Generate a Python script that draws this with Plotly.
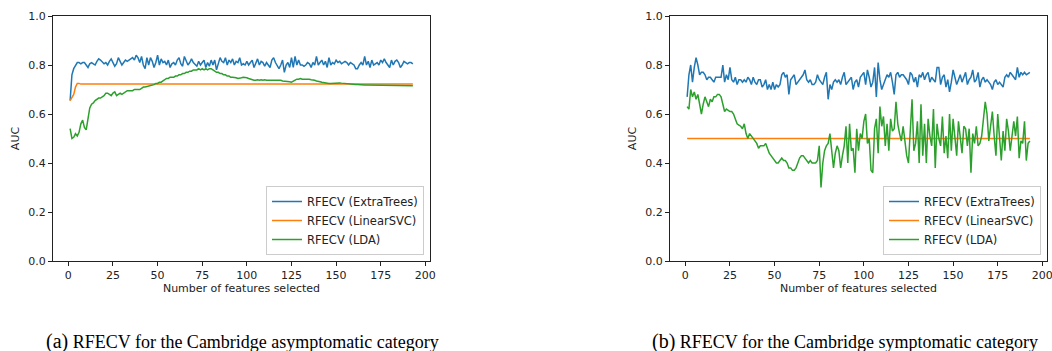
import plotly.graph_objects as go

# ---------------- data ----------------
features = list(range(1, 194))

left_extratrees = [
    0.655, 0.76, 0.785, 0.80, 0.81, 0.81, 0.805, 0.81, 0.81, 0.80,
    0.79, 0.805, 0.81, 0.805, 0.80, 0.815, 0.825, 0.82, 0.81, 0.805,
    0.81, 0.80, 0.815, 0.825, 0.81, 0.795, 0.805, 0.83, 0.815, 0.80,
    0.81, 0.82, 0.815, 0.82, 0.825, 0.83, 0.82, 0.84, 0.83, 0.81,
    0.835, 0.80, 0.785, 0.83, 0.80, 0.83, 0.815, 0.79, 0.81, 0.84,
    0.80, 0.825, 0.81, 0.815, 0.80, 0.82, 0.79, 0.805, 0.81, 0.80,
    0.82, 0.83, 0.805, 0.795, 0.835, 0.82, 0.80, 0.81, 0.825, 0.81,
    0.80, 0.795, 0.815, 0.80, 0.81, 0.82, 0.79, 0.81, 0.795, 0.82,
    0.80, 0.82, 0.78, 0.81, 0.83, 0.815, 0.81, 0.83, 0.80, 0.82,
    0.81, 0.825, 0.80, 0.815, 0.81, 0.83, 0.80, 0.805, 0.80, 0.815,
    0.80, 0.81, 0.82, 0.79, 0.81, 0.825, 0.80, 0.815, 0.81, 0.795,
    0.81, 0.80, 0.79, 0.82, 0.83, 0.81, 0.80, 0.785, 0.80, 0.82,
    0.77, 0.80, 0.81, 0.79, 0.83, 0.79, 0.835, 0.80, 0.82, 0.80,
    0.80, 0.795, 0.80, 0.81, 0.805, 0.79, 0.81, 0.80, 0.835, 0.80,
    0.81, 0.82, 0.80, 0.815, 0.79, 0.83, 0.80, 0.81, 0.805, 0.82,
    0.81, 0.815, 0.805, 0.81, 0.815, 0.81, 0.80, 0.81, 0.805, 0.80,
    0.785, 0.785, 0.80, 0.81, 0.80, 0.835, 0.80, 0.815, 0.79, 0.82,
    0.80, 0.805, 0.81, 0.80, 0.82, 0.81, 0.825, 0.81, 0.80, 0.79,
    0.82, 0.80, 0.815, 0.82, 0.81, 0.79, 0.80, 0.815, 0.81, 0.805,
    0.81, 0.81, 0.805,
]

left_linearsvc_x = [1, 2, 3, 4, 5, 6, 7, 193]
left_linearsvc = [0.655, 0.67, 0.68, 0.71, 0.725, 0.725, 0.722, 0.722]

left_lda = [
    0.54, 0.50, 0.505, 0.52, 0.51, 0.525, 0.56, 0.575, 0.545, 0.535,
    0.58, 0.625, 0.64, 0.645, 0.655, 0.66, 0.665, 0.665, 0.67, 0.675,
    0.685, 0.685, 0.68, 0.675, 0.685, 0.69, 0.675, 0.68, 0.685, 0.68,
    0.685, 0.69, 0.695, 0.695, 0.695, 0.695, 0.70, 0.70, 0.70, 0.70,
    0.705, 0.71, 0.71, 0.712, 0.715, 0.715, 0.72, 0.72, 0.725, 0.725,
    0.73, 0.73, 0.735, 0.74, 0.745, 0.745, 0.75, 0.75, 0.75, 0.755,
    0.755, 0.76, 0.76, 0.765, 0.765, 0.77, 0.77, 0.775, 0.775, 0.78,
    0.78, 0.78, 0.785, 0.78, 0.785, 0.78, 0.785, 0.78, 0.785, 0.785,
    0.78, 0.775, 0.77, 0.77, 0.765, 0.765, 0.76, 0.76, 0.755, 0.755,
    0.75, 0.75, 0.75, 0.748, 0.745, 0.745, 0.748, 0.75, 0.75, 0.748,
    0.745, 0.742, 0.74, 0.738, 0.738, 0.74, 0.738, 0.74, 0.738, 0.74,
    0.738, 0.738, 0.74, 0.738, 0.738, 0.74, 0.74, 0.738, 0.738, 0.735,
    0.735, 0.735, 0.732, 0.732, 0.73, 0.735, 0.74, 0.742, 0.742, 0.745,
    0.742, 0.742, 0.745, 0.742, 0.742, 0.74, 0.74, 0.738, 0.735, 0.735,
    0.732, 0.73, 0.728, 0.726, 0.726, 0.725, 0.725, 0.726, 0.727, 0.726,
    0.727, 0.727, 0.726, 0.725, 0.724, 0.724, 0.722, 0.722, 0.72, 0.72,
    0.72, 0.72, 0.719, 0.719, 0.719, 0.718, 0.718, 0.718, 0.718, 0.718,
    0.718, 0.717, 0.717, 0.717, 0.717, 0.716, 0.716, 0.716, 0.716, 0.716,
    0.716, 0.716, 0.716, 0.715, 0.715, 0.715, 0.715, 0.715, 0.715, 0.715,
    0.715, 0.715, 0.715,
]

right_extratrees = [
    0.67, 0.76, 0.80, 0.73, 0.79, 0.83, 0.80, 0.76, 0.77, 0.77,
    0.76, 0.74, 0.75, 0.75, 0.74, 0.73, 0.75, 0.75, 0.75, 0.75,
    0.80, 0.73, 0.76, 0.74, 0.79, 0.74, 0.73, 0.75, 0.72, 0.74,
    0.74, 0.73, 0.74, 0.73, 0.75, 0.74, 0.72, 0.75, 0.73, 0.72,
    0.74, 0.74, 0.71, 0.72, 0.74, 0.70, 0.72, 0.70, 0.73, 0.70,
    0.72, 0.71, 0.72, 0.76, 0.77, 0.75, 0.76, 0.68, 0.74, 0.75,
    0.76, 0.72, 0.73, 0.74, 0.75, 0.76, 0.78, 0.74, 0.73, 0.74,
    0.72, 0.72, 0.73, 0.76, 0.74, 0.73, 0.72, 0.75, 0.77, 0.66,
    0.72, 0.70, 0.73, 0.74, 0.73, 0.74, 0.72, 0.75, 0.77, 0.72,
    0.73, 0.74, 0.75, 0.70, 0.73, 0.74, 0.71, 0.75, 0.76, 0.77,
    0.72, 0.78, 0.75, 0.71, 0.73, 0.79, 0.67, 0.81, 0.74, 0.70,
    0.72, 0.74, 0.76, 0.75, 0.77, 0.73, 0.68, 0.76, 0.77, 0.75,
    0.76, 0.76, 0.75, 0.74, 0.72, 0.77, 0.76, 0.73, 0.75, 0.71,
    0.76, 0.75, 0.77, 0.74, 0.76, 0.77, 0.73, 0.75, 0.74, 0.73,
    0.79, 0.79, 0.72, 0.75, 0.76, 0.71, 0.74, 0.69, 0.73, 0.78,
    0.75, 0.72, 0.74, 0.76, 0.73, 0.75, 0.77, 0.72, 0.74, 0.75,
    0.78, 0.73, 0.74, 0.77, 0.71, 0.74, 0.75, 0.73, 0.74, 0.73,
    0.72, 0.70, 0.73, 0.74, 0.72, 0.73, 0.72, 0.71, 0.75, 0.76,
    0.75, 0.77, 0.76, 0.75, 0.74, 0.79, 0.75, 0.77, 0.76, 0.77,
    0.76, 0.765, 0.77,
]

right_linearsvc_x = [1, 193]
right_linearsvc = [0.50, 0.50]

right_lda = [
    0.63, 0.62, 0.70, 0.67, 0.69, 0.66, 0.68, 0.64, 0.60, 0.64,
    0.67, 0.65, 0.63, 0.66, 0.65, 0.67, 0.67, 0.68, 0.68, 0.67,
    0.64, 0.61, 0.62, 0.615, 0.61, 0.61, 0.60, 0.58, 0.56, 0.555,
    0.55, 0.54, 0.56, 0.52, 0.50, 0.52, 0.51, 0.50, 0.49, 0.48,
    0.46, 0.47, 0.47, 0.47, 0.48, 0.46, 0.44, 0.43, 0.42, 0.41,
    0.40, 0.40, 0.41, 0.42, 0.41, 0.41, 0.40, 0.38, 0.38, 0.37,
    0.37, 0.38, 0.40, 0.42, 0.43, 0.43, 0.42, 0.41, 0.40, 0.41,
    0.40, 0.40, 0.40, 0.41, 0.47, 0.30, 0.40, 0.45, 0.47, 0.48,
    0.52, 0.45, 0.38, 0.44, 0.47, 0.45, 0.38, 0.43, 0.47, 0.55,
    0.40, 0.56, 0.45, 0.46, 0.36, 0.54, 0.45, 0.52, 0.50, 0.57,
    0.60, 0.48, 0.50, 0.37, 0.36, 0.54, 0.58, 0.44, 0.63, 0.55,
    0.59, 0.47, 0.56, 0.45, 0.58, 0.53, 0.54, 0.65, 0.56, 0.52,
    0.49, 0.55, 0.48, 0.43, 0.40, 0.55, 0.66, 0.45, 0.48, 0.57,
    0.40, 0.64, 0.43, 0.56, 0.40, 0.58, 0.51, 0.47, 0.62, 0.38,
    0.56, 0.50, 0.47, 0.59, 0.44, 0.51, 0.42, 0.60, 0.45, 0.58,
    0.51, 0.43, 0.57, 0.50, 0.44, 0.55, 0.54, 0.47, 0.54, 0.36,
    0.52, 0.48, 0.55, 0.47, 0.48, 0.51, 0.58, 0.65, 0.60, 0.49,
    0.55, 0.61, 0.51, 0.43, 0.60, 0.48, 0.41, 0.53, 0.45, 0.58,
    0.53, 0.45, 0.50, 0.57, 0.51, 0.59, 0.42, 0.49, 0.48, 0.57,
    0.41, 0.48, 0.49,
]

series_names = ["RFECV (ExtraTrees)", "RFECV (LinearSVC)", "RFECV (LDA)"]
colors = ["#1f77b4", "#ff7f0e", "#2ca02c"]
x_ticks = [0, 25, 50, 75, 100, 125, 150, 175, 200]
y_ticks = [0.0, 0.2, 0.4, 0.6, 0.8, 1.0]
captions = [
    "<span style='font-size:20px'>(a)</span> RFECV for the Cambridge asymptomatic category",
    "<span style='font-size:20px'>(b)</span> RFECV for the Cambridge symptomatic category",
]

# ---------------- figure ----------------
W, H = 1052, 351
fig = go.Figure()

panels = [
    (features, left_extratrees, left_linearsvc_x, left_linearsvc, features, left_lda),
    (features, right_extratrees, right_linearsvc_x, right_linearsvc, features, right_lda),
]

for i, (x1, y1, x2, y2, x3, y3) in enumerate(panels):
    xa = "x" if i == 0 else "x2"
    ya = "y" if i == 0 else "y2"
    lg = "legend" if i == 0 else "legend2"
    for name, xs, ys, c in zip(series_names, [x1, x2, x3], [y1, y2, y3], colors):
        fig.add_trace(go.Scatter(
            x=xs, y=ys, mode="lines", name=name,
            line=dict(color=c, width=1.5),
            xaxis=xa, yaxis=ya, legend=lg, showlegend=True,
        ))

def px_x(p):
    return p / W

def px_y(p):
    return (H - p) / H

axis_common = dict(
    showgrid=False, zeroline=False, showline=True, linecolor="#222", linewidth=1,
    mirror=True, ticks="outside", ticklen=4, tickwidth=1, tickcolor="#222",
    tickfont=dict(family="DejaVu Sans", size=11, color="#222"),
    automargin=False, ticklabeloverflow="allow",
)

xaxis_cfg = dict(axis_common, range=[-8.6, 202.6], tickvals=x_ticks,
                 title=dict(text="Number of features selected", standoff=1,
                            font=dict(family="DejaVu Sans", size=11, color="#222")))
yaxis_cfg = dict(axis_common, range=[0, 1], tickvals=y_ticks, tickformat=".1f",
                 title=dict(text="AUC", standoff=6,
                            font=dict(family="DejaVu Sans", size=11, color="#222")))

legend_common = dict(
    bgcolor="rgba(255,255,255,0.8)", bordercolor="#cccccc", borderwidth=1,
    font=dict(family="DejaVu Sans", size=11.5, color="#222"),
    xanchor="right", yanchor="bottom", tracegroupgap=0, itemwidth=30,
)

fig.update_layout(
    width=W, height=H,
    margin=dict(l=0, r=0, t=0, b=0, autoexpand=False),
    paper_bgcolor="white", plot_bgcolor="white",
    xaxis=dict(xaxis_cfg, domain=[px_x(53), px_x(430)], anchor="y"),
    yaxis=dict(yaxis_cfg, domain=[px_y(261), px_y(16)], anchor="x"),
    xaxis2=dict(xaxis_cfg, domain=[px_x(670), px_x(1047)], anchor="y2"),
    yaxis2=dict(yaxis_cfg, domain=[px_y(261), px_y(16)], anchor="x2"),
    legend=dict(legend_common, x=px_x(424), y=px_y(255)),
    legend2=dict(legend_common, x=px_x(1041), y=px_y(255)),
)

for cap, xpos in zip(captions, [44, 650]):
    fig.add_annotation(
        text=cap, xref="paper", yref="paper", x=px_x(xpos), y=px_y(341),
        xanchor="left", yanchor="middle", showarrow=False,
        font=dict(family="Liberation Serif", size=18, color="black"),
    )

# remove the page's default body margin so the figure fills the window exactly
fig.write_html(
    "out.html",
    config={"displayModeBar": False},
    post_script="document.body.style.margin='0';document.body.style.overflow='hidden';",
)
